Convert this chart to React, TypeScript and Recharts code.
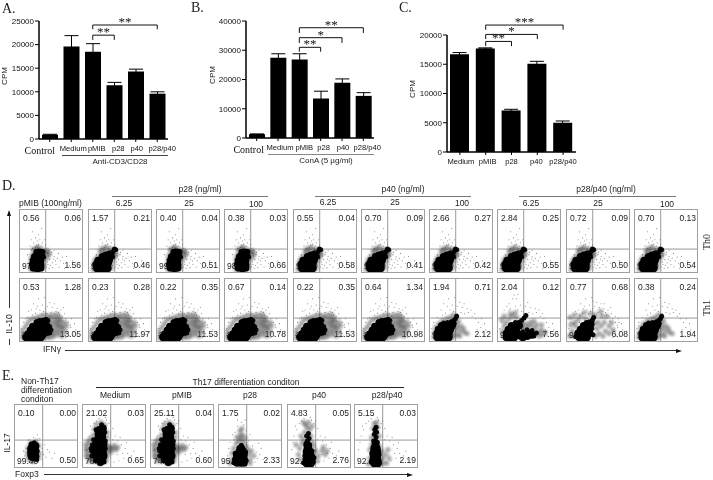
import React from "react";
import { BarChart, Bar, XAxis, YAxis, ErrorBar, ReferenceLine, ScatterChart, Scatter } from "recharts";

const SANS = "'Liberation Sans', Arial, sans-serif";
const SERIF = "'Liberation Serif', 'Times New Roman', serif";

// ---- bar charts ----
const catsA = ["Control", "Medium", "pMIB", "p28", "p40", "p28/p40"];
const valsA = [900, 19600, 18500, 11400, 14300, 9600];
const errsA = [100, 2300, 1700, 600, 500, 400];
const valsB = [1300, 27400, 26800, 13500, 18900, 14400];
const errsB = [100, 1400, 2000, 2500, 1300, 1100];
const catsC = ["Medium", "pMIB", "p28", "p40", "p28/p40"];
const valsC = [16700, 17700, 7100, 15100, 5000];
const errsC = [300, 100, 200, 400, 300];
const ticksA = [0, 5000, 10000, 15000, 20000, 25000];
const ticksB = [0, 10000, 20000, 30000, 40000];
const ticksC = [0, 5000, 10000, 15000, 20000];
const bracketsA = [
  { from: "pMIB", to: "p28/p40", y: 24150, drop: 900, stars: "**" },
  { from: "pMIB", to: "p28", y: 22000, drop: 1000, stars: "**" },
];
const bracketsB = [
  { from: "pMIB", to: "p28/p40", y: 37700, drop: 1800, stars: "**" },
  { from: "pMIB", to: "p40", y: 34300, drop: 1800, stars: "*" },
  { from: "pMIB", to: "p28", y: 31000, drop: 1500, stars: "**" },
];
const bracketsC = [
  { from: "pMIB", to: "p28/p40", y: 21700, drop: 800, stars: "***" },
  { from: "pMIB", to: "p40", y: 20100, drop: 800, stars: "*" },
  { from: "pMIB", to: "p28", y: 18900, drop: 800, stars: "**" },
];

// ---- flow cytometry panels (% of axis) ----
type P = [number, number];
type Cloud = { core: P[]; tail: P[]; mid: P[]; sparse: P[] };

const sparseTh0: P[] = [[25,40],[30,45],[20,38],[35,42],[28,50],[22,47],[33,37],[40,34],[45,30],[50,28],[55,25],[60,22],[48,20],[52,15],[58,12],[65,18],[45,12],[42,24],[70,14],[15,20],[14,10],[12,28],[18,35],[38,10],[43,8],[47,35],[30,60],[25,55],[75,25],[62,30],[55,35],[80,10],[35,70],[20,65],[40,52],[42,38],[16,42],[47,6],[53,7],[57,18],[63,8],[68,24],[72,6],[85,18],[27,43],[32,52],[24,36],[36,47],[18,52],[44,16],[49,11],[54,21],[51,32],[46,26],[41,44]];
const th0Narrow: Cloud = {
  core: [[22,7],[28,6],[33,7],[21,12],[27,12],[33,12],[22,18],[28,18],[33,19],[24,24],[30,25],[34,26],[28,30],[33,31]],
  tail: [[37,33],[36,28],[26,33],[38,24],[30,34]],
  mid: [[17,8],[17,14],[18,22],[20,28],[24,35],[30,38],[36,36],[40,28],[40,20],[38,12],[37,6],[18,4],[42,32],[44,34],[28,40],[22,37],[47,30],[45,24]],
  sparse: sparseTh0,
};
const th0Diag: Cloud = {
  core: [[13,6],[19,6],[25,6],[30,6],[12,12],[18,12],[24,12],[30,13],[15,18],[21,18],[27,19],[32,19],[22,24],[28,25],[33,26]],
  tail: [[36,29],[39,33],[41,37],[37,27],[33,31],[43,36],[30,30],[26,29],[38,24],[35,22]],
  mid: [[8,8],[8,14],[10,20],[14,25],[20,30],[25,34],[32,36],[37,36],[40,28],[38,18],[36,12],[36,6],[7,4],[22,38],[28,40],[42,24],[44,30],[18,34]],
  sparse: sparseTh0,
};
const sparseTh1: P[] = [[25,45],[32,50],[20,42],[38,48],[44,44],[50,46],[56,44],[62,46],[68,40],[74,36],[78,30],[82,22],[85,14],[88,28],[80,8],[76,18],[72,44],[60,52],[52,54],[44,56],[36,58],[28,56],[18,50],[12,38],[6,30],[3,20],[90,18],[66,50],[48,62],[30,68],[22,60],[55,60],[40,70],[83,36],[92,10],[70,54],[14,48],[35,44],[47,40],[41,52],[58,48],[64,42],[78,12],[86,8],[74,6],[69,32],[81,26],[9,36],[3,9],[26,52]];
const th1Wide: Cloud = {
  core: [[10,6],[16,6],[22,6],[28,6],[34,6],[13,11],[19,11],[25,11],[31,11],[37,11],[17,17],[23,17],[29,17],[35,17],[41,17],[21,23],[27,23],[33,23],[39,24],[28,29],[34,29],[40,30]],
  tail: [[45,26],[48,23],[42,35],[45,33],[38,34],[46,19],[50,18],[44,12],[48,13],[35,33],[31,33]],
  mid: [[45,8],[50,14],[55,18],[60,22],[65,16],[70,20],[47,28],[52,30],[58,28],[63,32],[68,26],[72,14],[55,8],[62,10],[68,8],[53,24],[60,15],[66,22],[50,36],[57,38],[64,38],[44,6],[75,24],[50,6],[58,33],[54,12],[62,26],[5,10],[4,16],[8,22],[12,28],[16,34],[22,36],[28,38],[34,40],[40,42],[4,5],[46,40],[52,42],[60,43],[66,33],[73,30]],
  sparse: sparseTh1,
};
const th1Diag: Cloud = {
  core: [[12,6],[18,6],[24,6],[30,6],[12,12],[18,12],[24,12],[30,12],[14,18],[20,18],[26,18],[32,18],[19,24],[25,24],[31,25],[36,27]],
  tail: [[34,31],[38,33],[41,36],[43,40],[28,30],[22,29],[37,23],[35,20],[39,29]],
  mid: [[6,6],[7,14],[9,22],[14,28],[20,33],[27,36],[33,38],[36,14],[38,9],[40,18],[44,22],[48,16],[44,10],[36,5],[42,28],[50,24],[55,14],[48,8],[46,32],[54,20],[60,12],[38,42]],
  sparse: sparseTh1.slice(0, 34),
};
const th1Right: Cloud = {
  core: [[14,6],[20,6],[26,6],[14,12],[20,12],[26,12],[17,18],[23,18],[29,18],[22,24],[28,24],[34,25],[40,6],[47,8],[54,10]],
  tail: [[33,30],[38,33],[42,37],[45,41],[28,30],[36,6],[43,11],[50,14],[58,8],[40,15],[47,18],[55,17],[34,13],[33,8],[62,13]],
  mid: [[36,20],[42,21],[48,24],[54,24],[60,20],[66,14],[66,8],[72,10],[62,26],[70,18],[8,8],[7,16],[10,24],[13,30],[18,36],[24,40],[30,38],[44,28],[52,30],[6,34],[10,40],[20,44],[28,46],[76,14],[70,26],[58,32]],
  sparse: [...sparseTh1.slice(0, 30), [18,60],[24,68],[32,75],[14,56],[26,74],[20,52],[10,50]],
};
const th1Loose: Cloud = {
  core: [[20,6],[26,6],[32,6],[18,12],[24,12],[30,12],[36,13],[22,18],[28,18],[34,19],[27,24],[33,25],[38,27]],
  tail: [[36,31],[41,34],[43,38],[31,30],[14,7],[40,20],[42,10]],
  mid: [[10,8],[8,16],[6,26],[12,30],[18,34],[22,40],[30,36],[46,8],[52,12],[58,8],[48,20],[55,24],[62,16],[68,12],[50,30],[60,30],[68,24],[44,28],[4,8],[14,24],[38,44],[46,42],[56,40],[74,18],[72,30],[28,46],[64,40],[12,42],[5,38],[54,48]],
  sparse: [...sparseTh1, [10,28],[20,30],[16,44],[78,40],[84,30],[60,60],[42,64]],
};
const sparseTh17: P[] = [[10,50],[14,60],[18,70],[26,78],[36,80],[42,70],[48,62],[52,50],[56,42],[62,36],[68,30],[72,22],[66,14],[58,10],[50,8],[74,10],[78,18],[8,40],[6,28],[5,14],[16,8],[44,74],[30,84],[22,74],[60,48],[70,40],[82,26],[64,22],[12,66],[48,44],[55,20],[38,76],[85,12]];
const th17None: Cloud = {
  core: [[27,17],[33,17],[26,23],[32,23],[26,29],[32,29],[28,35],[33,34]],
  tail: [[30,13],[35,12],[24,19],[36,26],[31,39]],
  mid: [[21,16],[20,23],[21,31],[25,39],[34,41],[38,34],[39,22],[38,15],[30,9],[24,11]],
  sparse: [[16,18],[18,30],[14,26],[22,44],[30,48],[40,46],[44,30],[46,20],[44,12],[50,16],[56,24],[52,28],[60,14],[16,10],[26,6],[38,8],[48,36],[64,22],[36,52],[12,14]],
};
const th17Tall: Cloud = {
  core: [[25,12],[31,12],[21,18],[27,18],[33,18],[20,24],[26,24],[32,24],[19,30],[25,30],[31,30],[21,36],[27,36],[33,36],[24,42],[30,42],[25,48],[31,48],[25,54],[31,54],[27,60],[32,62],[28,8]],
  tail: [[14,26],[13,30],[15,36],[14,18],[17,44],[21,60],[36,42],[36,30],[20,10],[34,8],[30,68],[35,56]],
  mid: [[6,30],[10,24],[10,36],[9,42],[14,14],[13,46],[17,52],[17,9],[12,14],[8,18],[5,26],[19,62],[22,69],[29,72],[35,68],[39,56],[39,48],[39,36],[40,26],[39,18],[37,10],[44,30],[48,30],[53,28],[50,35],[45,24],[56,32],[4,36],[5,18],[27,5],[42,32],[37,24],[36,14],[10,10]],
  sparse: sparseTh17,
};
const th17Low: Cloud = {
  core: [[29,7],[35,7],[40,7],[28,13],[34,13],[40,13],[29,19],[35,19],[40,20],[33,25],[38,26],[36,30]],
  tail: [[24,7],[25,12],[26,22],[43,24],[44,10],[36,35],[32,31]],
  mid: [[32,42],[36,45],[40,40],[34,50],[38,52],[34,58],[37,62],[28,38],[44,34],[29,48],[42,47],[48,20],[50,12],[46,28],[20,12],[21,22],[24,30],[52,26],[56,18],[18,6],[50,6]],
  sparse: [[30,66],[40,68],[36,72],[26,56],[44,58],[24,44],[48,42],[54,34],[60,24],[62,14],[58,8],[66,20],[14,18],[16,30],[18,40],[68,30],[30,76],[42,76],[72,12],[12,8],[64,38],[22,52],[50,52]],
};
const th17Mid: Cloud = {
  core: [[30,6],[37,6],[30,12],[36,12],[31,18],[37,18],[30,24],[35,24],[33,30],[31,36]],
  tail: [[25,7],[41,8],[27,18],[42,15],[39,26],[29,30],[35,36],[31,42],[34,46],[30,50],[33,54]],
  mid: [[25,44],[37,50],[27,56],[35,60],[31,64],[28,68],[23,38],[39,40],[19,30],[17,20],[21,50],[41,34],[45,26],[49,18],[55,26],[60,20],[57,32],[47,10],[39,66],[20,12],[25,72],[33,72],[63,26],[13,36]],
  sparse: sparseTh17,
};
const th17Narrow: Cloud = {
  core: [[31,6],[37,6],[30,12],[36,12],[30,18],[36,18],[31,24],[36,24],[31,30],[35,30],[33,36]],
  tail: [[33,42],[34,48],[31,53],[35,56],[32,60],[34,64],[39,10],[26,8],[39,20],[27,22],[30,42],[36,40]],
  mid: [[27,36],[39,34],[27,48],[39,50],[29,62],[37,64],[31,70],[35,72],[24,28],[43,26],[45,14],[49,20],[53,28],[55,14],[24,14],[22,5],[45,6],[51,6]],
  sparse: sparseTh17,
};

// column and row choices and quadrant readings
const xCols = [19, 88, 156, 224, 293, 361, 429, 497, 566, 634];
const cloudsTh0 = [th0Narrow, th0Diag, th0Narrow, th0Narrow, th0Diag, th0Diag, th0Diag, th0Diag, th0Diag, th0Diag];
const cloudsTh1 = [th1Wide, th1Wide, th1Wide, th1Wide, th1Wide, th1Wide, th1Diag, th1Right, th1Loose, th1Diag];
const quadTh0 = [
  ["0.56","0.06","97.82","1.56"],["1.57","0.21","97.77","0.46"],["0.40","0.04","99.05","0.51"],["0.38","0.03","98.93","0.66"],["0.55","0.04","98.83","0.58"],
  ["0.70","0.09","98.80","0.41"],["2.66","0.27","96.66","0.42"],["2.84","0.25","96.36","0.55"],["0.72","0.09","98.69","0.50"],["0.70","0.13","98.63","0.54"],
];
const quadTh1 = [
  ["0.53","1.28","85.14","13.05"],["0.23","0.28","87.52","11.97"],["0.22","0.35","87.90","11.53"],["0.67","0.14","88.41","10.78"],["0.22","0.35","87.90","11.53"],
  ["0.64","1.34","87.04","10.98"],["1.94","0.71","95.23","2.12"],["2.04","0.12","90.28","7.56"],["0.77","0.68","92.47","6.08"],["0.38","0.24","97.44","1.94"],
];
const xColsE = [14, 82, 150, 218, 287, 354];
const cloudsE = [th17None, th17Tall, th17Tall, th17Low, th17Mid, th17Narrow];
const quadE = [
  ["0.10","0.00","99.40","0.50"],["21.02","0.03","78.30","0.65"],["25.11","0.04","74.25","0.60"],
  ["1.75","0.02","95.90","2.33"],["4.83","0.05","92.36","2.76"],["5.15","0.03","92.63","2.19"],
];

const toPts = (a: P[]) => a.map(([x, y]) => ({ x, y }));

function T({ x, y, s = 8.5, c = "#222", f = SANS, a = "left", r = 0, children }: any) {
  const tx = a === "center" ? "translate(-50%,-50%)" : "translateY(-50%)";
  return (
    <div style={{ position: "absolute", left: x, top: y, fontSize: s, color: c, fontFamily: f, whiteSpace: "nowrap", lineHeight: 1, transform: tx + (r ? ` rotate(${r}deg)` : "") }}>
      {children}
    </div>
  );
}
const HL = ({ x1, x2, y, c = "#777", h = 1 }: any) => <div style={{ position: "absolute", left: x1, top: y, width: x2 - x1, height: h, background: c }} />;

function makeTick(shift: number[]) {
  return function BarTick({ x, y, payload, index }: any) {
    const serif = payload.value === "Control";
    return (
      <text x={x + (shift[index] || 0)} y={y + (serif ? 10 : 7)} textAnchor="middle" fontFamily={serif ? SERIF : SANS} fontSize={serif ? 10 : 7.6} fill="#111">
        {payload.value}
      </text>
    );
  };
}

function brackets(list: any[]) {
  const out: any[] = [];
  list.forEach((b, i) => {
    out.push(
      <ReferenceLine key={"h" + i} ifOverflow="visible" stroke="#111" strokeWidth={1}
        segment={[{ x: b.from, y: b.y }, { x: b.to, y: b.y }]}
        label={{ value: b.stars, position: "top", fontSize: 13, fill: "#111", fontFamily: SERIF, dy: 6 } as any} />,
      <ReferenceLine key={"l" + i} ifOverflow="visible" stroke="#111" strokeWidth={1}
        segment={[{ x: b.from, y: b.y }, { x: b.from, y: b.y - b.drop }]} />,
      <ReferenceLine key={"r" + i} ifOverflow="visible" stroke="#111" strokeWidth={1}
        segment={[{ x: b.to, y: b.y }, { x: b.to, y: b.y - b.drop }]} />
    );
  });
  return out;
}

function Bars({ left, top, width, height, yWidth, mTop, mRight, cats, vals, errs, ticks, max, barSize, list, shift }: any) {
  const data = cats.map((c: string, i: number) => ({ c, v: vals[i], e: errs[i] }));
  const Tick = makeTick(shift);
  return (
    <div style={{ position: "absolute", left, top }}>
      <BarChart width={width} height={height} data={data} margin={{ top: mTop, right: mRight, bottom: 0, left: 0 }} barCategoryGap="0%" style={{ overflow: "visible" }}>
        <XAxis dataKey="c" height={30} interval={0} tick={(p: any) => <Tick {...p} />} tickSize={3} stroke="#000" axisLine={{ stroke: "#000", strokeWidth: 1.5 }} tickLine={{ stroke: "#000" }} />
        <YAxis width={yWidth} domain={[0, max]} ticks={ticks} interval={0} tick={{ fontSize: 8, fill: "#111", fontFamily: SANS }} tickSize={4} tickMargin={1} axisLine={{ stroke: "#000", strokeWidth: 1.5 }} tickLine={{ stroke: "#000" }} />
        <Bar dataKey="v" fill="#000" barSize={barSize} isAnimationActive={false}>
          <ErrorBar dataKey="e" direction="y" width={7} stroke="#000" strokeWidth={1} isAnimationActive={false} />
        </Bar>
        {brackets(list)}
      </BarChart>
    </div>
  );
}

function dot(r: number, fill: string, opacity: number, blur: number) {
  return (p: any) => <circle cx={p.cx} cy={p.cy} r={r} fill={fill} opacity={opacity} style={{ filter: `blur(${blur}px)` }} />;
}

function Flow({ x, y, w, h, cloud, q, vx, hy }: any) {
  const fs = 8.5;
  return (
    <div style={{ position: "absolute", left: x, top: y, width: w, height: h, boxSizing: "border-box", border: "1px solid #a0a0a0" }}>
      <T x={3} y={8} s={fs}>{q[0]}</T>
      <div style={{ position: "absolute", right: 1, top: 3.5, fontSize: fs, color: "#222", fontFamily: SANS, lineHeight: 1 }}>{q[1]}</div>
      <T x={2} y={h - 8} s={fs}>{q[2]}</T>
      <div style={{ position: "absolute", right: 1, top: h - 13, fontSize: fs, color: "#222", fontFamily: SANS, lineHeight: 1 }}>{q[3]}</div>
      <div style={{ position: "absolute", left: 0, top: 0 }}>
        <ScatterChart width={w - 2} height={h - 2} margin={{ top: 0, right: 0, bottom: 0, left: 0 }}>
          <XAxis type="number" dataKey="x" domain={[0, 100]} hide />
          <YAxis type="number" dataKey="y" domain={[0, 100]} hide />
          <ReferenceLine x={vx} stroke="#999" strokeWidth={1} />
          <ReferenceLine y={hy} stroke="#999" strokeWidth={1} />
          <Scatter data={toPts(cloud.sparse)} shape={dot(0.55, "#666", 0.8, 0.2)} isAnimationActive={false} />
          <Scatter data={toPts(cloud.mid)} shape={dot(2.6, "#333", 0.42, 1)} isAnimationActive={false} />
          <Scatter data={toPts(cloud.tail)} shape={dot(2.5, "#000", 0.95, 0.7)} isAnimationActive={false} />
          <Scatter data={toPts(cloud.core)} shape={dot(4, "#000", 1, 0.7)} isAnimationActive={false} />
        </ScatterChart>
      </div>
    </div>
  );
}

const Arrow = ({ x, y, dir }: any) => (
  <svg style={{ position: "absolute", left: x - 3, top: y - 3 }} width={6} height={6}>
    <polygon points={dir === "up" ? "3,0 1,6 5,6" : "6,3 0,1 0,5"} fill="#111" />
  </svg>
);

const shiftA = [-10, 2, 4, 4, 1, 5];
const shiftB = [-8, 2, 5, 3, 1, 4];
const shiftC = [1, 2, 0, -1, 0];

export default function App() {
  return (
    <div style={{ position: "absolute", left: 0, top: 0, width: 713, height: 480, background: "#fff", overflow: "hidden", filter: "blur(0.35px)" }}>
      <T x={2} y={9} s={14} f={SERIF}>A.</T>
      <T x={191} y={8} s={14} f={SERIF}>B.</T>
      <T x={399} y={8} s={14} f={SERIF}>C.</T>
      <T x={2} y={186} s={14} f={SERIF}>D.</T>
      <T x={2} y={376} s={14} f={SERIF}>E.</T>

      <Bars left={0} top={0} width={185} height={169} yWidth={39} mTop={21} mRight={17} cats={catsA} vals={valsA} errs={errsA} ticks={ticksA} max={25000} barSize={16} list={bracketsA} shift={shiftA} />
      <Bars left={200} top={0} width={190} height={168} yWidth={46} mTop={21} mRight={16} cats={catsA} vals={valsB} errs={errsB} ticks={ticksB} max={40000} barSize={16} list={bracketsB} shift={shiftB} />
      <Bars left={400} top={0} width={192} height={182} yWidth={47} mTop={35} mRight={16} cats={catsC} vals={valsC} errs={errsC} ticks={ticksC} max={20000} barSize={19} list={bracketsC} shift={shiftC} />

      <T x={5} y={76} s={8} a="center" r={-90}>CPM</T>
      <T x={213} y={75} s={8} a="center" r={-90}>CPM</T>
      <T x={413} y={89} s={8} a="center" r={-90}>CPM</T>
      <HL x1={62} x2={168} y={155} c="#444" />
      <T x={120} y={162} s={8} a="center">Anti-CD3/CD28</T>
      <HL x1={268} x2={374} y={154} c="#888" />
      <T x={326} y={161} s={8} a="center">ConA (5 µg/ml)</T>

      <T x={19} y={203} s={8.5}>pMIB (100ng/ml)</T>
      <T x={200} y={189} s={8.5} a="center">p28 (ng/ml)</T>
      <HL x1={112} x2={268} y={196} />
      <T x={124} y={203} s={8.5} a="center">6.25</T>
      <T x={189} y={203} s={8.5} a="center">25</T>
      <T x={256} y={204} s={8.5} a="center">100</T>
      <T x={403} y={189} s={8.5} a="center">p40 (ng/ml)</T>
      <HL x1={315} x2={471} y={196} />
      <T x={328} y={202} s={8.5} a="center">6.25</T>
      <T x={395} y={202} s={8.5} a="center">25</T>
      <T x={462} y={203} s={8.5} a="center">100</T>
      <T x={606} y={189} s={8.5} a="center">p28/p40 (ng/ml)</T>
      <HL x1={519} x2={676} y={196} />
      <T x={531} y={203} s={8.5} a="center">6.25</T>
      <T x={598} y={203} s={8.5} a="center">25</T>
      <T x={667} y={204} s={8.5} a="center">100</T>

      {xCols.map((x, i) => (
        <Flow key={"a" + i} x={x} y={209} w={64} h={64} cloud={cloudsTh0[i]} q={quadTh0[i]} vx={41.5} hy={37} />
      ))}
      {xCols.map((x, i) => (
        <Flow key={"b" + i} x={x} y={278} w={64} h={64} cloud={cloudsTh1[i]} q={quadTh1[i]} vx={41.5} hy={37} />
      ))}

      <T x={707} y={242} s={10} f={SERIF} a="center" r={-90}>Th0</T>
      <T x={707} y={308} s={10} f={SERIF} a="center" r={-90}>Th1</T>

      <div style={{ position: "absolute", left: 8.5, top: 212, width: 1, height: 96, background: "#333" }} />
      <Arrow x={9} y={213} dir="up" />
      <T x={9} y={324} s={8.5} a="center" r={-90}>IL-10</T>
      <div style={{ position: "absolute", left: 8.5, top: 339, width: 1, height: 6, background: "#333" }} />
      <T x={43} y={349} s={8.5}>IFNγ</T>
      <HL x1={65} x2={678} y={350} c="#333" />
      <Arrow x={679} y={350.5} dir="right" />

      <T x={21} y={381} s={8.5}>Non-Th17</T>
      <T x={21} y={390} s={8.5}>differentiation</T>
      <T x={21} y={399} s={8.5}>conditon</T>
      <T x={246} y={382} s={8.5} a="center">Th17 differentiation conditon</T>
      <HL x1={96} x2={404} y={387} c="#222" />
      <T x={115} y={395} s={8.5} a="center">Medium</T>
      <T x={182} y={395} s={8.5} a="center">pMIB</T>
      <T x={250} y={395} s={8.5} a="center">p28</T>
      <T x={319} y={395} s={8.5} a="center">p40</T>
      <T x={387} y={395} s={8.5} a="center">p28/p40</T>

      {xColsE.map((x, i) => (
        <Flow key={"e" + i} x={x} y={404} w={64} h={64} cloud={cloudsE[i]} q={quadE[i]} vx={44.7} hy={43.4} />
      ))}

      <T x={7} y={443} s={8.5} a="center" r={-90}>IL-17</T>
      <T x={15} y={474} s={8.5}>Foxp3</T>
      <HL x1={44} x2={409} y={474} c="#333" />
      <Arrow x={410} y={474.5} dir="right" />
    </div>
  );
}
